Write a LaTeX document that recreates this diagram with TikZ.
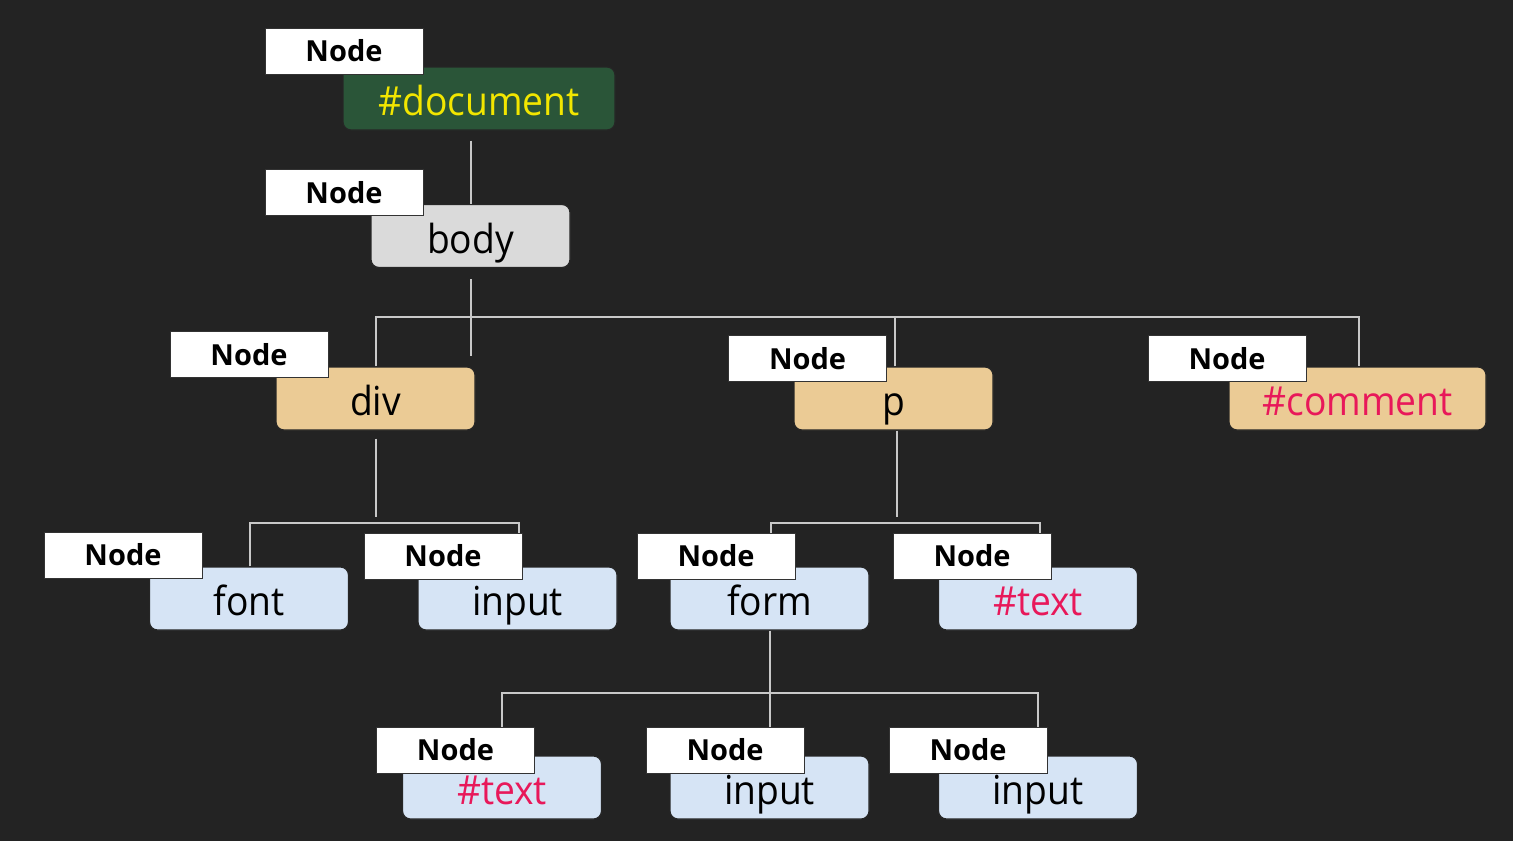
\documentclass[tikz,border=0pt]{standalone}
\usepackage{fontspec}
\setmainfont{Open Sans}
\newfontfamily\elemfont[FakeStretch=0.93]{Open Sans}
\usetikzlibrary{calc}
\definecolor{bg}{HTML}{232323}
\definecolor{docgreen}{HTML}{2A5538}
\definecolor{bodygray}{HTML}{DADADA}
\definecolor{tan}{HTML}{EBCB95}
\definecolor{paleblue}{HTML}{D6E4F5}
\definecolor{docyellow}{HTML}{F2E600}
\definecolor{hashred}{HTML}{E8185A}
\definecolor{wire}{HTML}{C8C8C8}
\tikzset{
  elem/.style={rounded corners=4pt, draw=black!85, line width=0.6pt,
    minimum width=99.5pt, minimum height=31.5pt, inner sep=0pt,
    text height=17pt, text depth=0pt,
    font=\elemfont\fontsize{20}{22}\selectfont, text=black},
  wide/.style={minimum width=#1},
  tag/.style={fill=white, draw=black!80, line width=0.5pt,
    minimum width=79pt, minimum height=23pt, inner sep=0pt,
    font=\fontsize{14.5}{16}\selectfont\bfseries, text=black},
  wireline/.style={draw=wire, line width=1pt}
}
\begin{document}
\begin{tikzpicture}[x=0.5pt,y=-0.5pt]
\fill[bg] (0,0) rectangle (1513,841);
\useasboundingbox (0,0) rectangle (1513,841);
% main element boxes
\node[elem, fill=docgreen, wide=136pt, text=docyellow] (doc) at (479,98.5) {\#document};
\node[elem, fill=bodygray] (body) at (470.5,236) {body};
\node[elem, fill=tan] (div) at (375.5,398.5) {div};
\node[elem, fill=tan] (p) at (893.5,398.5) {p};
\node[elem, fill=tan, wide=128.5pt, text=hashred] (comment) at (1357.5,398.5) {\#comment};
\node[elem, fill=paleblue] (font) at (249,598.5) {font};
\node[elem, fill=paleblue] (inputA) at (517.5,598.5) {input};
\node[elem, fill=paleblue] (form) at (769.5,598.5) {form};
\node[elem, fill=paleblue, text=hashred] (textA) at (1038,598.5) {\#text};
\node[elem, fill=paleblue, text=hashred] (textB) at (502,787.5) {\#text};
\node[elem, fill=paleblue] (inputB) at (769.5,787.5) {input};
\node[elem, fill=paleblue] (inputC) at (1038,787.5) {input};
% Node tags
\node[tag] (ldoc) at (344,51) {Node};
\node[tag] (lbody) at (344,192.5) {Node};
\node[tag] (ldiv) at (249,354.5) {Node};
\node[tag] (lp) at (807.5,358.5) {Node};
\node[tag] (lcomment) at (1227,358.5) {Node};
\node[tag] (lfont) at (123,555) {Node};
\node[tag] (linputA) at (443,556) {Node};
\node[tag] (lform) at (716,556) {Node};
\node[tag] (ltextA) at (972,556) {Node};
\node[tag] (ltextB) at (455.5,750) {Node};
\node[tag] (linputB) at (725,750) {Node};
\node[tag] (linputC) at (968,750) {Node};
% junction coordinates
\coordinate (bj) at (471,317);
\coordinate (dj) at (376,523);
\coordinate (pj) at (897,523);
\coordinate (fj) at (770,693);
% connectors
\draw[wireline] ($(doc.south -| body.north)+(0.5,10)$) -- ($(body.north)+(0.5,0)$);
\draw[wireline] ($(body.south)+(0.5,11)$) -- ($(body.south)+(0.5,88)$);
\draw[wireline] ($(div.north)+(0.5,0)$) |- (bj) -| ($(comment.north)+(1.5,0)$);
\draw[wireline] ($(p.north)+(1,0)$) -- ($(p.north |- bj)+(1,0)$);
\draw[wireline] ($(div.south)+(0.5,8)$) -- ($(div.south)+(0.5,86)$);
\draw[wireline] ($(font.north)+(1,0)$) |- (dj) -| ($(inputA.north |- linputA.north)+(1.5,0)$);
\draw[wireline] ($(p.south)+(3.5,0)$) -- ($(p.south)+(3.5,86)$);
\draw[wireline] ($(form.north |- lform.north)+(1.5,0)$) |- (pj) -| ($(textA.north |- ltextA.north)+(2,0)$);
\draw[wireline] ($(form.south)+(0.5,0)$) -- ($(inputB.north |- linputB.north)+(0.5,0)$);
\draw[wireline] (textB.north |- ltextB.north) |- (fj) -| (inputC.north |- linputC.north);
\end{tikzpicture}
\end{document}
